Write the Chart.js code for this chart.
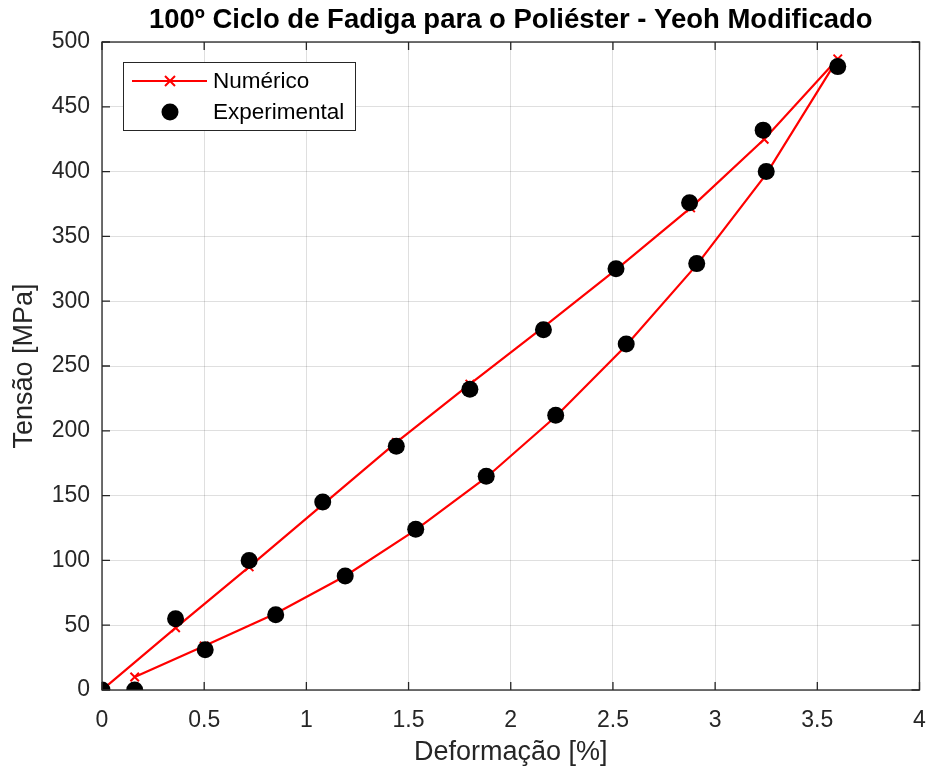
<!DOCTYPE html>
<html>
<head>
<meta charset="utf-8">
<script src="https://cdn.jsdelivr.net/npm/chart.js@4"></script>
<style>
  html, body { margin: 0; padding: 0; background: #fff; }
  #wrap { width: 928px; height: 769px; }
</style>
</head>
<body>
<div id="wrap"><canvas id="chart" width="928" height="769"></canvas></div>
<script>
// Experimental points (deformation %, stress MPa)
const expStrain = [0, 0.36, 0.72, 1.08, 1.44, 1.80, 2.16, 2.515, 2.875, 3.235, 3.60,
                   3.25, 2.91, 2.565, 2.22, 1.88, 1.535, 1.19, 0.85, 0.505, 0.16];
const expStress = [0, 55, 100, 145, 188, 232, 278, 325, 376, 432, 481,
                   400, 329, 267, 212, 165, 124, 88, 58, 31, 0];

// Numerical model (loading then unloading)
const numStrain = [0, 0.36, 0.72, 1.08, 1.44, 1.80, 2.16, 2.52, 2.88, 3.24, 3.60,
                   3.25, 2.91, 2.56, 2.22, 1.88, 1.53, 1.19, 0.85, 0.50, 0.16];
const numStress = [0, 48, 95, 143, 191, 236, 280, 325, 372, 425, 487,
                   398, 328, 265, 211, 164, 123, 88, 59, 34, 10];

const xTicks = [0, 0.5, 1, 1.5, 2, 2.5, 3, 3.5, 4];
const yTicks = [0, 50, 100, 150, 200, 250, 300, 350, 400, 450, 500];

const titleText = '100º Ciclo de Fadiga para o Poliéster - Yeoh Modificado';

const FONT = "'Liberation Sans', Arial, Helvetica, sans-serif";
const TXT = '#262626';

function toPoints(xs, ys) {
    return xs.map((x, i) => ({ x: x, y: ys[i] }));
}

// title centred over the axes, box, inward ticks and the legend
const boxPlugin = {
    id: 'boxPlugin',
    afterDatasetsDraw(chart) {
        const ctx = chart.ctx;
        const a = chart.chartArea;
        const xs = chart.scales.x;
        const ys = chart.scales.y;
        ctx.save();

        ctx.fillStyle = '#000';
        ctx.font = 'bold 27.5px ' + FONT;
        ctx.textAlign = 'center';
        ctx.textBaseline = 'middle';
        ctx.fillText(titleText, (a.left + a.right) / 2, 20);

        ctx.strokeStyle = TXT;
        ctx.lineWidth = 1.3;
        ctx.strokeRect(a.left, a.top, a.right - a.left, a.bottom - a.top);
        const tl = 8;
        ctx.beginPath();
        xTicks.forEach(v => {
            const px = xs.getPixelForValue(v);
            ctx.moveTo(px, a.bottom); ctx.lineTo(px, a.bottom - tl);
            ctx.moveTo(px, a.top); ctx.lineTo(px, a.top + tl);
        });
        yTicks.forEach(v => {
            const py = ys.getPixelForValue(v);
            ctx.moveTo(a.left, py); ctx.lineTo(a.left + tl, py);
            ctx.moveTo(a.right, py); ctx.lineTo(a.right - tl, py);
        });
        ctx.stroke();

        // legend
        const lx = a.left + 21, ly = a.top + 20, lw = 232, lh = 68;
        ctx.fillStyle = '#fff';
        ctx.fillRect(lx, ly, lw, lh);
        ctx.strokeStyle = TXT;
        ctx.lineWidth = 1;
        ctx.strokeRect(lx + 0.5, ly + 0.5, lw, lh);

        const r1 = ly + 19, r2 = ly + 50;
        ctx.strokeStyle = '#ff0000';
        ctx.lineWidth = 2;
        ctx.beginPath();
        ctx.moveTo(lx + 9, r1); ctx.lineTo(lx + 84, r1);
        ctx.stroke();
        const mx = lx + 47, m = 5;
        ctx.beginPath();
        ctx.moveTo(mx - m, r1 - m); ctx.lineTo(mx + m, r1 + m);
        ctx.moveTo(mx - m, r1 + m); ctx.lineTo(mx + m, r1 - m);
        ctx.stroke();
        ctx.fillStyle = '#000';
        ctx.beginPath();
        ctx.arc(mx, r2, 8.5, 0, Math.PI * 2);
        ctx.fill();

        ctx.fillStyle = '#000';
        ctx.font = '22.5px ' + FONT;
        ctx.textAlign = 'left';
        ctx.fillText('Numérico', lx + 90, r1 + 1);
        ctx.fillText('Experimental', lx + 90, r2 + 1);
        ctx.restore();
    }
};

const ctx = document.getElementById('chart').getContext('2d');
const chart = new Chart(ctx, {
    type: 'scatter',
    data: {
        datasets: [
            {
                label: 'Experimental',
                data: toPoints(expStrain, expStress),
                showLine: false,
                pointStyle: 'circle',
                pointRadius: 8.5,
                pointBackgroundColor: '#000',
                pointBorderColor: '#000',
                pointBorderWidth: 0,
                order: 0
            },
            {
                label: 'Numérico',
                data: toPoints(numStrain, numStress),
                showLine: true,
                borderColor: '#ff0000',
                borderWidth: 2.2,
                tension: 0,
                pointStyle: 'crossRot',
                pointRadius: 6,
                pointBorderColor: '#ff0000',
                pointBorderWidth: 2,
                order: 1
            }
        ]
    },
    options: {
        responsive: false,
        animation: false,
        events: [],
        layout: { padding: { left: 0, right: 5, top: 42, bottom: 0 } },
        plugins: {
            legend: { display: false },
            tooltip: { enabled: false },
            title: { display: false }
        },
        scales: {
            x: {
                type: 'linear',
                min: 0,
                max: 4,
                afterFit: s => { s.height = 79; s.paddingLeft = 0; s.paddingRight = 0; },
                afterBuildTicks: s => { s.ticks = xTicks.map(v => ({ value: v })); },
                grid: { color: 'rgba(38,38,38,0.15)', drawTicks: false },
                border: { display: false },
                ticks: {
                    color: TXT,
                    padding: 17,
                    maxRotation: 0,
                    font: { family: FONT, size: 23 },
                    callback: v => String(v)
                },
                title: {
                    display: true,
                    text: 'Deformação [%]',
                    color: TXT,
                    font: { family: FONT, size: 27 },
                    padding: { top: 0, bottom: 0 }
                }
            },
            y: {
                type: 'linear',
                min: 0,
                max: 500,
                afterFit: s => { s.width = 102; s.paddingTop = 0; s.paddingBottom = 0; },
                afterBuildTicks: s => { s.ticks = yTicks.map(v => ({ value: v })); },
                grid: { color: 'rgba(38,38,38,0.15)', drawTicks: false },
                border: { display: false },
                ticks: {
                    color: TXT,
                    padding: 12,
                    font: { family: FONT, size: 23 },
                    callback: v => String(v)
                },
                title: {
                    display: true,
                    text: 'Tensão [MPa]',
                    color: TXT,
                    font: { family: FONT, size: 27 },
                    padding: { top: 8, bottom: 0 }
                }
            }
        }
    },
    plugins: [boxPlugin]
});
</script>
</body>
</html>
